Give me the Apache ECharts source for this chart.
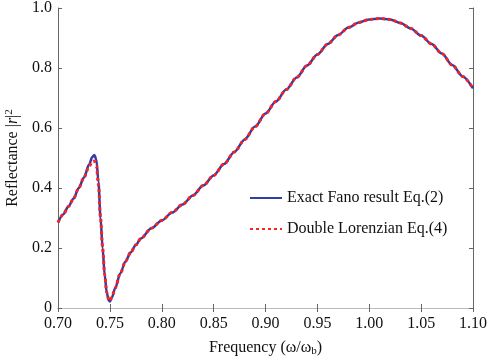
<!DOCTYPE html>
<html>
<head>
<meta charset="utf-8">
<script src="https://cdn.jsdelivr.net/npm/echarts@6/dist/echarts.min.js"></script>
<style>
  html, body { margin: 0; padding: 0; background: #fff; }
  #chart { width: 488px; height: 362px; }
</style>
</head>
<body>
<div id="chart"></div>
<script>
  // frequency (ω/ωb)
  var freq = [0.700, 0.705, 0.710, 0.715, 0.720, 0.725, 0.730, 0.733, 0.735, 0.737,
    0.739, 0.741, 0.743, 0.745, 0.747, 0.749, 0.750, 0.752, 0.755, 0.760,
    0.765, 0.770, 0.775, 0.780, 0.790, 0.800, 0.810, 0.820, 0.830, 0.840,
    0.850, 0.860, 0.870, 0.880, 0.890, 0.900, 0.910, 0.920, 0.930, 0.940,
    0.950, 0.960, 0.970, 0.980, 0.990, 1.000, 1.010, 1.020, 1.030, 1.040,
    1.050, 1.060, 1.070, 1.080, 1.090, 1.100]
  // Exact Fano result
  var exact = [0.285, 0.312, 0.338, 0.365, 0.400, 0.435, 0.478, 0.503, 0.510, 0.495,
    0.420, 0.300, 0.200, 0.110, 0.050, 0.025, 0.022, 0.035, 0.065, 0.115,
    0.155, 0.185, 0.210, 0.232, 0.266, 0.292, 0.318, 0.345, 0.375, 0.408,
    0.442, 0.480, 0.520, 0.562, 0.605, 0.648, 0.688, 0.728, 0.768, 0.808,
    0.845, 0.880, 0.910, 0.935, 0.952, 0.962, 0.965, 0.962, 0.950, 0.932,
    0.908, 0.880, 0.848, 0.810, 0.772, 0.732]
  // Double Lorentzian
  var lorentz = [0.285, 0.312, 0.338, 0.365, 0.400, 0.435, 0.472, 0.487, 0.490, 0.475,
    0.410, 0.300, 0.200, 0.110, 0.052, 0.027, 0.024, 0.036, 0.066, 0.115,
    0.155, 0.185, 0.210, 0.232, 0.266, 0.292, 0.318, 0.345, 0.375, 0.408,
    0.442, 0.480, 0.520, 0.562, 0.605, 0.648, 0.688, 0.728, 0.768, 0.808,
    0.845, 0.880, 0.910, 0.935, 0.952, 0.962, 0.965, 0.962, 0.950, 0.932,
    0.908, 0.880, 0.848, 0.810, 0.772, 0.732]

  var font = '"Liberation Serif", "DejaVu Serif", serif'
  var chart = echarts.init(document.getElementById('chart'))

  function pairs(ys) {
    return freq.map(function (f, i) { return [f, ys[i]] })
  }

  chart.setOption({
    animation: false,
    grid: { left: 58, right: 15, top: 8, bottom: 54, containLabel: false, outerBoundsMode: 'none' },
    legend: {
      orient: 'vertical',
      left: 244,
      top: 185,
      itemWidth: 32,
      itemHeight: 10,
      itemGap: 15,
      itemStyle: { opacity: 0 },
      textStyle: { fontFamily: font, fontSize: 16, color: '#111' },
      data: ['Exact Fano result Eq.(2)', 'Double Lorenzian Eq.(4)']
    },
    xAxis: [{
      type: 'value',
      min: 0.7,
      max: 1.1,
      interval: 0.05,
      name: 'Frequency (ω/ω{sub|b})',
      nameLocation: 'middle',
      nameGap: 30,
      nameTextStyle: {
        fontFamily: font, fontSize: 16, color: '#111',
        rich: { sub: { fontFamily: font, fontSize: 11, verticalAlign: 'bottom', padding: [8, 0, 0, 0] } }
      },
      axisLine: { lineStyle: { color: '#666' } },
      axisTick: { inside: true, length: 4, lineStyle: { color: '#666' } },
      axisLabel: {
        fontFamily: font, fontSize: 16, color: '#111', margin: 8,
        formatter: function (v) { return v.toFixed(2) }
      },
      splitLine: { show: false }
    }, {
      type: 'value',
      position: 'top',
      min: 0.7,
      max: 1.1,
      interval: 0.05,
      axisLine: { lineStyle: { color: '#bbb' } },
      axisTick: { inside: true, length: 4, lineStyle: { color: '#666' } },
      axisLabel: { show: false },
      splitLine: { show: false }
    }],
    yAxis: [{
      type: 'value',
      min: 0,
      max: 1,
      interval: 0.2,
      name: 'Reflectance |{i|r}|{sup|2}',
      nameLocation: 'middle',
      nameGap: 33,
      nameTextStyle: {
        fontFamily: font, fontSize: 16, color: '#111',
        rich: {
          i: { fontFamily: font, fontSize: 16, fontStyle: 'italic' },
          sup: { fontFamily: font, fontSize: 11, verticalAlign: 'top', padding: [0, 0, 8, 0] }
        }
      },
      axisLine: { lineStyle: { color: '#666' } },
      axisTick: { inside: true, length: 4, lineStyle: { color: '#666' } },
      axisLabel: {
        fontFamily: font, fontSize: 16, color: '#111', margin: 6,
        formatter: function (v) { return v === 0 ? '0' : v.toFixed(1) }
      },
      splitLine: { show: false }
    }, {
      type: 'value',
      position: 'right',
      min: 0,
      max: 1,
      interval: 0.2,
      axisLine: { show: true, lineStyle: { color: '#666' } },
      axisTick: { show: true, inside: true, length: 4, lineStyle: { color: '#666' } },
      axisLabel: { show: false },
      splitLine: { show: false }
    }],
    series: [
      {
        name: 'Exact Fano result Eq.(2)',
        type: 'line',
        data: pairs(exact),
        showSymbol: false,
        symbol: 'none',
        smooth: 0.3,
        smoothMonotone: 'x',
        lineStyle: { color: '#2f3fa6', width: 2.5 },
        itemStyle: { color: '#2f3fa6' }
      },
      {
        name: 'Double Lorenzian Eq.(4)',
        type: 'line',
        data: pairs(lorentz),
        showSymbol: false,
        symbol: 'none',
        smooth: 0.3,
        smoothMonotone: 'x',
        lineStyle: { color: '#ff2020', width: 3, type: [3, 3] },
        itemStyle: { color: '#ff2020' }
      }
    ]
  })
</script>
</body>
</html>
